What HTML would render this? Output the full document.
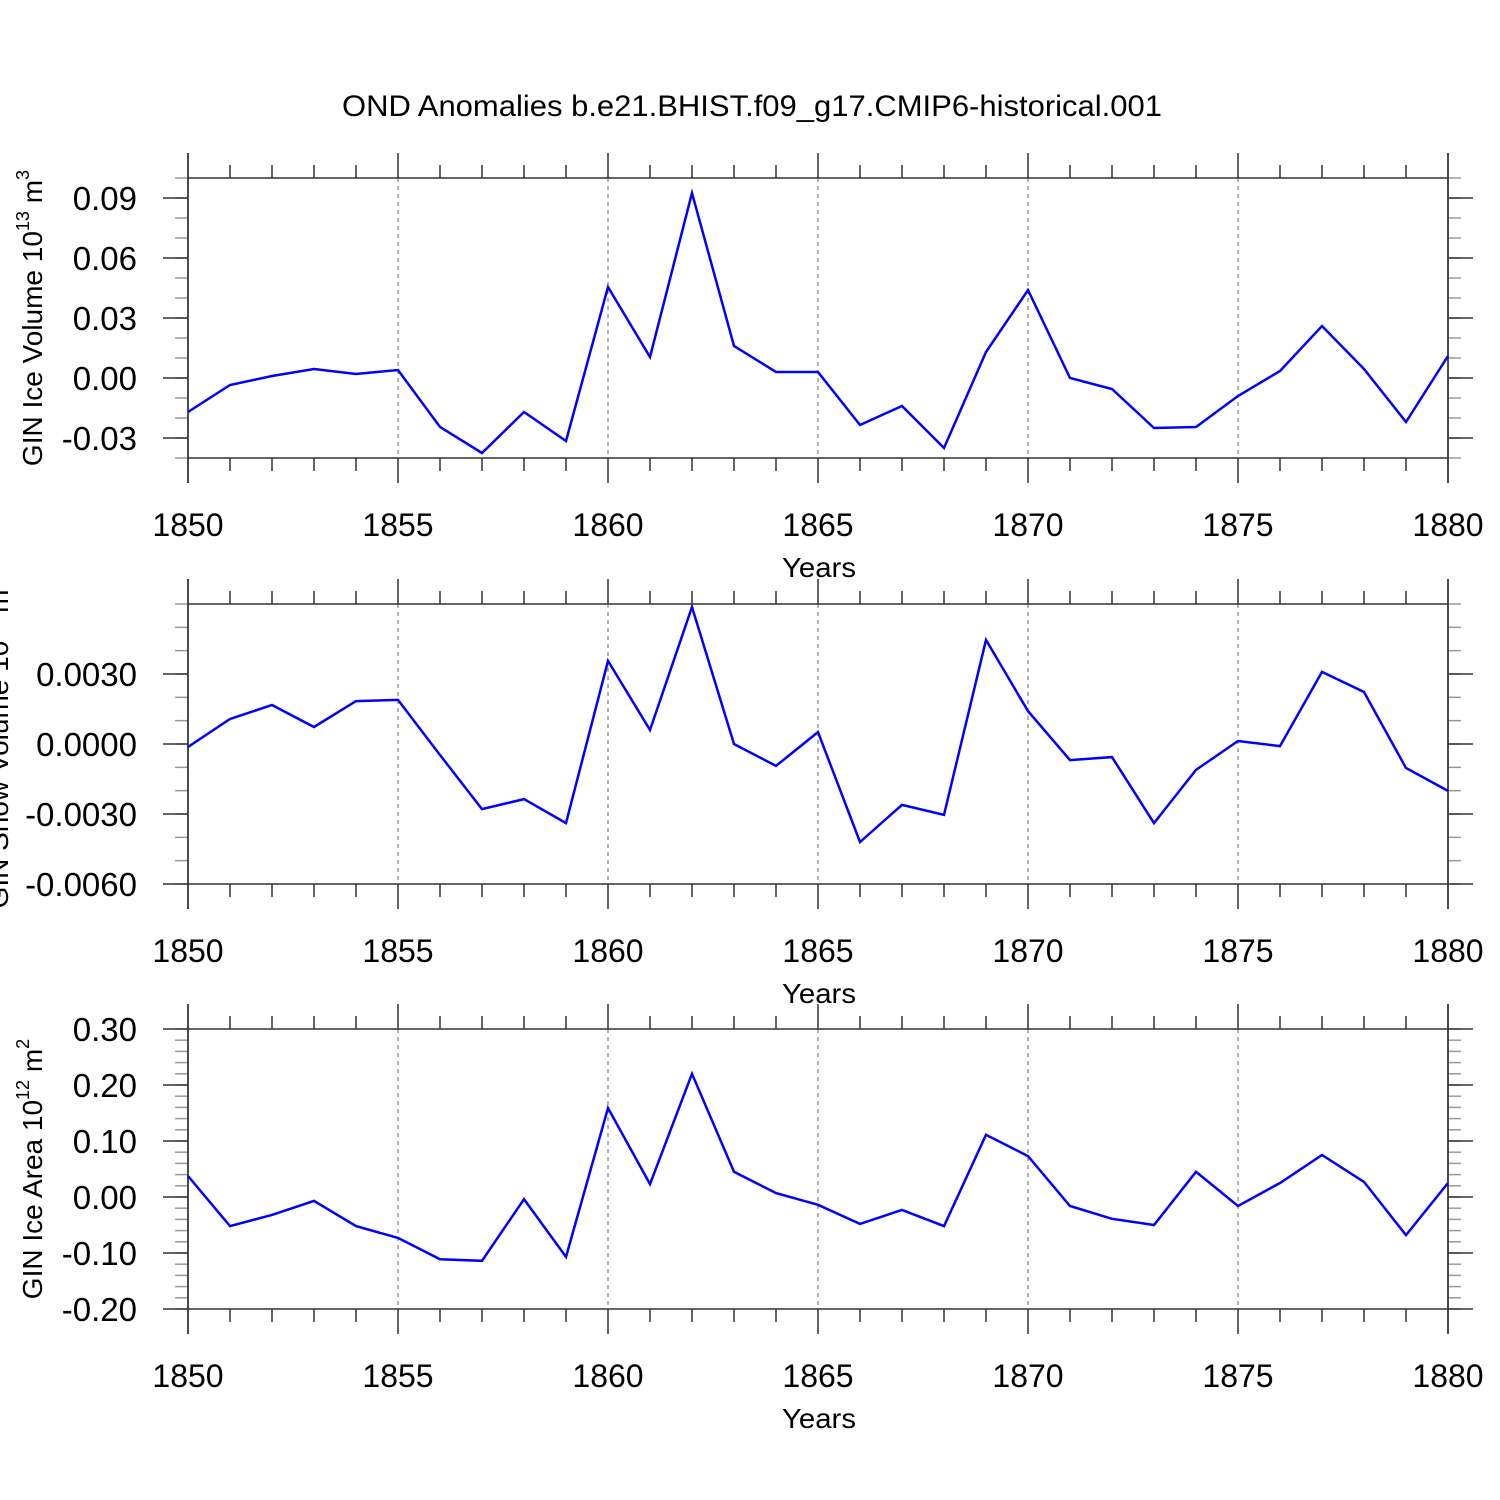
<!DOCTYPE html>
<html><head><meta charset="utf-8"><style>
html,body{margin:0;padding:0;background:#fff;}
svg{display:block;font-family:"Liberation Sans",Arial,sans-serif;}
</style></head><body>
<svg id="chart" width="1500" height="1500" viewBox="0 0 1500 1500" xmlns="http://www.w3.org/2000/svg">
<rect width="1500" height="1500" fill="#fff"/>
<text x="752" y="116" font-size="30" text-anchor="middle" textLength="820" lengthAdjust="spacingAndGlyphs">OND Anomalies b.e21.BHIST.f09_g17.CMIP6-historical.001</text>
</svg>
<script>
const years = [1850,1851,1852,1853,1854,1855,1856,1857,1858,1859,1860,1861,1862,1863,1864,1865,1866,1867,1868,1869,1870,1871,1872,1873,1874,1875,1876,1877,1878,1879,1880];
const iceVolume = [-0.017,-0.0035,0.001,0.0045,0.002,0.004,-0.0245,-0.0375,-0.017,-0.0315,0.0455,0.0105,0.0925,0.016,0.003,0.003,-0.0235,-0.014,-0.035,0.013,0.044,0,-0.0055,-0.025,-0.0245,-0.009,0.0035,0.026,0.0045,-0.022,0.011];
const snowVolume = [-0.00013,0.00107,0.00167,0.00073,0.00184,0.00189,-0.00047,-0.00279,-0.00236,-0.00339,0.00356,0.0006,0.00587,0,-0.00094,0.00051,-0.0042,-0.00261,-0.00304,0.00446,0.00141,-0.00069,-0.00056,-0.00339,-0.00111,0.00013,-0.00009,0.00309,0.00223,-0.00103,-0.00201];
const iceArea = [0.0375,-0.052,-0.032,-0.007,-0.052,-0.073,-0.111,-0.114,-0.004,-0.107,0.159,0.023,0.22,0.045,0.007,-0.014,-0.048,-0.023,-0.052,0.111,0.073,-0.016,-0.039,-0.05,0.045,-0.016,0.025,0.075,0.027,-0.068,0.025];
const xTicks = [1850,1855,1860,1865,1870,1875,1880];
const volTicks = [-0.03,0.00,0.03,0.06,0.09];
const volLabels = ["-0.03","0.00","0.03","0.06","0.09"];
const snowTicks = [-0.006,-0.003,0,0.003];
const snowLabels = ["-0.0060","-0.0030","0.0000","0.0030"];
const areaTicks = [-0.2,-0.1,0,0.1,0.2,0.3];
const areaLabels = ["-0.20","-0.10","0.00","0.10","0.20","0.30"];

const svg = document.getElementById('chart');
const NS = 'http://www.w3.org/2000/svg';
function el(tag, attrs, parent){const e=document.createElementNS(NS,tag);for(const k in attrs)e.setAttribute(k,attrs[k]);(parent||svg).appendChild(e);return e;}
const X0=188, X1=1448;
const xs = v => X0 + (v-1850)/(30)*(X1-X0);

function panel(name, top, ymin, ymax, minorStep, ticks, labels, data, ylabel, ylabelX){
  const bot = top+280;
  const ys = v => bot - (v-ymin)/(ymax-ymin)*280;
  const g = el('g',{});
  
  
  xTicks.forEach(t=>{ if(t>1850 && t<1880){ el('line',{x1:xs(t),x2:xs(t),y1:top,y2:bot,stroke:'#666','stroke-width':1,'stroke-dasharray':'4,4'},g);} });
  for(let y=1850;y<=1880;y++){
    const maj = (y%5===0); const L = maj?25:13;
    el('line',{x1:xs(y),x2:xs(y),y1:top-L,y2:top,stroke:'#333','stroke-width':1.5},g);
    el('line',{x1:xs(y),x2:xs(y),y1:bot,y2:bot+L,stroke:'#333','stroke-width':1.5},g);
  }
  const n = Math.round((ymax-ymin)/minorStep);
  for(let i=0;i<=n;i++){
    const v = ymin + i*minorStep; const y = ys(v);
    el('line',{x1:X0-13,x2:X0,y1:y,y2:y,stroke:'#999','stroke-width':1.5},g);
    el('line',{x1:X1,x2:X1+13,y1:y,y2:y,stroke:'#999','stroke-width':1.5},g);
  }
  ticks.forEach((t,i)=>{
    const y = ys(t);
    el('line',{x1:X0-25,x2:X0,y1:y,y2:y,stroke:'#333','stroke-width':1.5},g);
    el('line',{x1:X1,x2:X1+25,y1:y,y2:y,stroke:'#333','stroke-width':1.5},g);
    const tx = el('text',{x:137,y:y+12,'font-size':33,'text-anchor':'end'},g);
    tx.textContent = labels[i];
    
    
  });
  el('rect',{x:X0,y:top,width:X1-X0,height:280,fill:'none',stroke:'#333','stroke-width':1.5},g);
  el('line',{x1:X0,x2:X0,y1:top-25,y2:bot+25,stroke:'#333','stroke-width':1.5},g);
  el('line',{x1:X1,x2:X1,y1:top-25,y2:bot+25,stroke:'#333','stroke-width':1.5},g);
  xTicks.forEach(t=>{
    const tx = el('text',{x:xs(t),y:bot+78,'font-size':32,'text-anchor':'middle'},g);
    tx.textContent = t;
    
    
  });
  const xt = el('text',{x:819,y:bot+119,'font-size':28,'text-anchor':'middle',textLength:74,lengthAdjust:'spacingAndGlyphs'},g);
  xt.textContent='Years';
  
  
  const yl = el('text',{x:ylabelX,y:(top+bot)/2,'font-size':28,'text-anchor':'middle',transform:`rotate(-90 ${ylabelX} ${(top+bot)/2})`},g);
  yl.innerHTML = ylabel;
  
  
  const pts = data.map((v,i)=>xs(years[i]).toFixed(1)+','+ys(v).toFixed(1)).join(' ');
  const pl = el('polyline',{points:pts,fill:'none',stroke:'#0000ff','stroke-width':2.5,'stroke-linejoin':'miter'},g);
  
  
}
panel('ice-volume',178,-0.04,0.10,0.01,volTicks,volLabels,iceVolume,'GIN Ice Volume 10<tspan dy="-13" font-size="18">13</tspan><tspan dy="13"> m</tspan><tspan dy="-13" font-size="18">3</tspan>',42);
panel('snow-volume',604,-0.006,0.006,0.001,snowTicks,snowLabels,snowVolume,'GIN Snow Volume 10<tspan dy="-13" font-size="18">12</tspan><tspan dy="13"> m</tspan><tspan dy="-13" font-size="18">3</tspan>',8);
panel('ice-area',1029,-0.2,0.3,0.02,areaTicks,areaLabels,iceArea,'GIN Ice Area 10<tspan dy="-13" font-size="18">12</tspan><tspan dy="13"> m</tspan><tspan dy="-13" font-size="18">2</tspan>',42);
</script>
</body></html>
